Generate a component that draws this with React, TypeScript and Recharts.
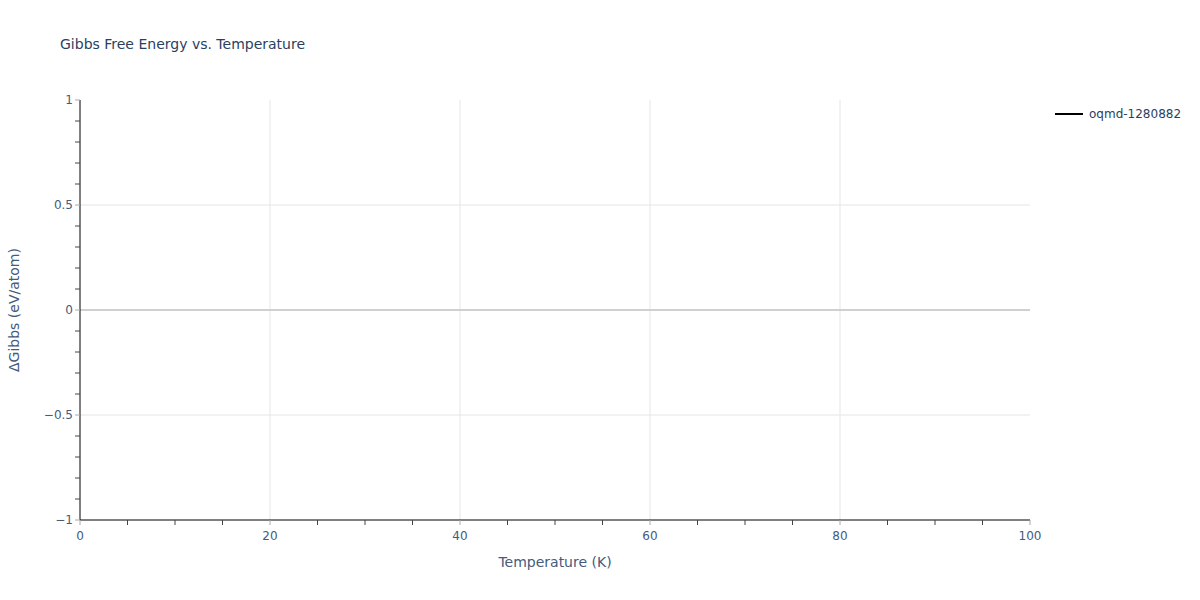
import React from 'react';
import { LineChart, Line, XAxis, YAxis, ReferenceLine } from 'recharts';

// the trace in the reference has no visible points
const temperatures: number[] = [];
const gibbs: number[] = [];
const seriesName = 'oqmd-1280882';

const xTicks = [0, 5, 10, 15, 20, 25, 30, 35, 40, 45, 50, 55, 60, 65, 70, 75, 80, 85, 90, 95, 100];
const xMajor = [0, 20, 40, 60, 80, 100];
const xGrid = [20, 40, 60, 80];
const yTicks = [-1, -0.9, -0.8, -0.7, -0.6, -0.5, -0.4, -0.3, -0.2, -0.1, 0, 0.1, 0.2, 0.3, 0.4, 0.5, 0.6, 0.7, 0.8, 0.9, 1];
const yMajor = [-1, -0.5, 0, 0.5, 1];
const yGrid = [-0.5, 0.5];

const data = temperatures.map((t, i) => ({ t, g: gibbs[i] }));

const FONT = 'verdana, "DejaVu Sans", sans-serif';
const TEXT = '#2a3f5f';
const TICK_TEXT = '#445b7c';

const isMajor = (list: number[], v: number) => list.some((m) => Math.abs(m - v) < 1e-9);
const fmtY = (v: number) => (v < 0 ? '\u2212' + String(Math.abs(v)) : String(v));

const XTick = (props: any) => {
    const { x, y, payload } = props;
    const major = isMajor(xMajor, payload.value);
    return (
        <g>
            <line x1={x} x2={x} y1={y} y2={y + 5} stroke={major ? '#aaaaaa' : '#444444'} strokeWidth={1} />
            {major && (
                <text x={x} y={y + 20} textAnchor="middle" fontSize={12} fill={TICK_TEXT} fontFamily={FONT}>
                    {payload.value}
                </text>
            )}
        </g>
    );
};

const YTick = (props: any) => {
    const { x, y, payload } = props;
    const major = isMajor(yMajor, payload.value);
    return (
        <g>
            <line x1={x - 5} x2={x} y1={y} y2={y} stroke={major ? '#aaaaaa' : '#444444'} strokeWidth={1} />
            {major && (
                <text x={x - 7} y={y + 4} textAnchor="end" fontSize={12} fill={TICK_TEXT} fontFamily={FONT}>
                    {fmtY(payload.value)}
                </text>
            )}
        </g>
    );
};

export default function App() {
    return (
        <div style={{ position: 'absolute', left: 0, top: 0, width: 1200, height: 600, background: '#fff', fontFamily: FONT }}>
            <div style={{ position: 'absolute', left: 60, top: 36, fontSize: 14, color: TEXT, whiteSpace: 'nowrap' }}>
                Gibbs Free Energy vs. Temperature
            </div>
            <div style={{ position: 'absolute', left: 555, top: 554, transform: 'translateX(-50%)', fontSize: 14, color: TICK_TEXT, whiteSpace: 'nowrap' }}>
                Temperature (K)
            </div>
            <div
                style={{
                    position: 'absolute',
                    left: 14,
                    top: 310,
                    transform: 'translate(-50%, -50%) rotate(-90deg)',
                    fontSize: 14,
                    color: TICK_TEXT,
                    whiteSpace: 'nowrap',
                }}
            >
                ΔGibbs (eV/atom)
            </div>
            <div style={{ position: 'absolute', left: 1055, top: 106, display: 'flex', alignItems: 'center', fontSize: 12, color: TEXT }}>
                <svg width={34} height={16}>
                    <line x1={0} x2={28} y1={8} y2={8} stroke="#000000" strokeWidth={2} />
                </svg>
                <span>{seriesName}</span>
            </div>
            <LineChart width={1200} height={600} data={data} margin={{ top: 100, right: 170, bottom: 50, left: 50 }}>
                {xGrid.map((v) => (
                    <ReferenceLine key={'x' + v} x={v} stroke="#e5e5e5" strokeWidth={1} />
                ))}
                {yGrid.map((v) => (
                    <ReferenceLine key={'y' + v} y={v} stroke="#e5e5e5" strokeWidth={1} />
                ))}
                <ReferenceLine y={0} stroke="#d0d0d0" strokeWidth={2} />
                <XAxis
                    dataKey="t"
                    type="number"
                    domain={[0, 100]}
                    ticks={xTicks}
                    interval={0}
                    allowDataOverflow
                    height={30}
                    tickSize={0}
                    tickMargin={0}
                    tickLine={false}
                    axisLine={{ stroke: '#000000', strokeWidth: 1 }}
                    tick={<XTick />}
                />
                <YAxis
                    type="number"
                    domain={[-1, 1]}
                    ticks={yTicks}
                    interval={0}
                    allowDataOverflow
                    width={30}
                    tickSize={0}
                    tickMargin={0}
                    tickLine={false}
                    axisLine={{ stroke: '#000000', strokeWidth: 1 }}
                    tick={<YTick />}
                />
                <Line type="linear" dataKey="g" name={seriesName} stroke="#000000" strokeWidth={2} dot={false} isAnimationActive={false} />
            </LineChart>
        </div>
    );
}
